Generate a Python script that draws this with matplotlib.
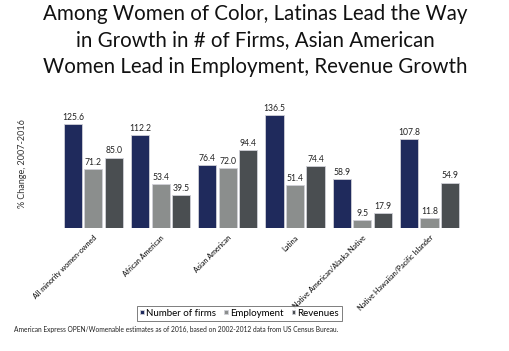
import numpy as np
import matplotlib.pyplot as plt

categories = ['All minority women-owned', 'African American', 'Asian American',
              'Latina', 'Native American/Alaska Native', 'Native Hawaiian/Pacific Islander']
firms = [125.6, 112.2, 76.4, 136.5, 58.9, 107.8]
employment = [71.2, 53.4, 72.0, 51.4, 9.5, 11.8]
revenues = [85.0, 39.5, 94.4, 74.4, 17.9, 54.9]

series = [('Number of firms', firms, '#1f2a5c'),
          ('Employment', employment, '#8b8e8d'),
          ('Revenues', revenues, '#4a4e51')]

plt.rcParams['font.family'] = ['Lato', 'DejaVu Sans']

fig = plt.figure(figsize=(5.1, 3.51), dpi=100)
ax = fig.add_axes([0.108, 0.35, 0.8, 0.4])

x = np.arange(len(categories))
w = 0.27
pitch = 0.305
for i, (name, vals, col) in enumerate(series):
    pos = x + (i - 1) * pitch
    ax.bar(pos, vals, w, color=col, edgecolor='#d0d0d8', linewidth=0.6, label=name)
    for p, v in zip(pos, vals):
        ax.text(p, v + 2.5, f'{v:.1f}', ha='center', va='bottom', fontsize=6.2, color='#222222')

ax.set_xlim(-0.57, 5.5)
ax.set_ylim(0, 169)
ax.set_yticks([])
ax.set_xticks(x)
ax.set_xticklabels(categories, rotation=45, ha='right', rotation_mode='anchor', fontsize=5.2)
ax.tick_params(axis='x', length=0, pad=4)
for s in ax.spines.values():
    s.set_visible(False)

fig.text(0.045, 0.535, '% Change, 2007-2016', rotation=90, ha='center', va='center', fontsize=6.5, color='#333333')

fig.text(0.5, 0.99, 'Among Women of Color, Latinas Lead the Way\nin Growth in # of Firms, Asian American\nWomen Lead in Employment, Revenue Growth',
         ha='center', va='top', fontsize=14.8, linespacing=1.42, color='#111111')

leg = ax.legend(loc='center', bbox_to_anchor=(0.47, 0.108), bbox_transform=fig.transFigure,
                ncol=3, fontsize=7, frameon=True, fancybox=False, edgecolor='#444444',
                handlelength=0.35, handleheight=0.35, handletextpad=0.2, columnspacing=0.9,
                borderpad=0.3)
leg.get_frame().set_linewidth(0.6)

fig.text(0.027, 0.06, 'American Express OPEN/Womenable estimates as of 2016, based on 2002-2012 data from US Census Bureau.',
         fontsize=4.8, color='#222222', va='center')

fig.savefig('out.png', dpi=100)
